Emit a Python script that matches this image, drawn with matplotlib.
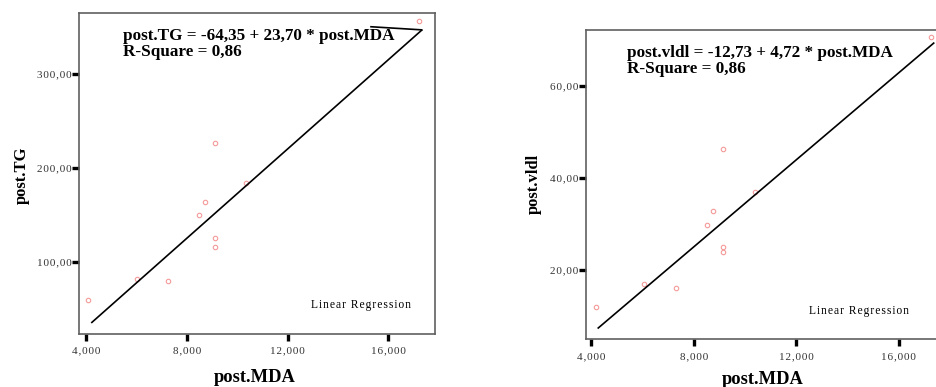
import matplotlib
matplotlib.use("Agg")
import matplotlib.pyplot as plt
import numpy as np

# ---- data ----
mda = [4.09, 6.04, 7.27, 8.50, 8.72, 9.13, 9.13, 9.13, 10.35, 17.23]
tg = [59.7, 81.6, 79.8, 149.9, 164.0, 226.6, 125.0, 115.6, 184.0, 355.8]

mda_v = [4.17, 6.07, 7.30, 8.52, 8.77, 9.15, 9.15, 9.15, 10.39, 17.27]
vldl = [11.97, 16.9, 16.1, 29.7, 32.8, 46.3, 24.9, 24.0, 36.9, 70.5]

tg_coef = (-64.35, 23.70)
vldl_coef = (-12.73, 4.72)
tg_fit_range = (4.23, 17.32)
vldl_fit_range = (4.27, 17.37)
# stray segment drawn at the end of the TG fit line
tg_tail_x = [17.32, 15.31]
tg_tail_y = [346.5, 349.8]

x_ticks = [4, 8, 12, 16]
x_ticklabels = ["4,000", "8,000", "12,000", "16,000"]
tg_ticks = [100, 200, 300]
tg_ticklabels = ["100,00", "200,00", "300,00"]
vldl_ticks = [20, 40, 60]
vldl_ticklabels = ["20,00", "40,00", "60,00"]

tg_eq = ["post.TG = -64,35 + 23,70 * post.MDA", "R-Square = 0,86"]
vldl_eq = ["post.vldl = -12,73 + 4,72 * post.MDA", "R-Square = 0,86"]
legend_text = "Linear Regression"

plt.rcParams['font.family'] = ['Liberation Serif', 'DejaVu Serif']

HAIR = "\u200a"
def spaced(s):
    return HAIR.join(s)

W, H = 936, 387
fig = plt.figure(figsize=(W / 100, H / 100), dpi=100)

def px_axes(x0, y0, x1, y1):
    return fig.add_axes([x0 / W, 1 - y1 / H, (x1 - x0) / W, (y1 - y0) / H])

ax1 = px_axes(79, 13, 435, 334)
ax2 = px_axes(585.7, 30, 946, 339.3)

marker_kw = dict(marker='o', markersize=3.2, markerfacecolor='none',
                 markeredgecolor='#f49a9a', markeredgewidth=0.8, linestyle='none')

def style(ax, xt, xtl, yt, ytl, xlim, ylim):
    ax.set_xlim(*xlim)
    ax.set_ylim(*ylim)
    ax.set_xticks(xt)
    ax.set_xticklabels([spaced(t) for t in xtl])
    ax.set_yticks(yt)
    ax.set_yticklabels([spaced(t) for t in ytl])
    for s in ax.spines.values():
        s.set_color('#606060')
        s.set_linewidth(1.2)
    ax.tick_params(direction='out', length=5, width=2.4, color='black',
                   labelcolor='#333333', labelsize=8)
    ax.tick_params(axis='y', pad=0.5)
    ax.tick_params(axis='x', pad=4)

# left panel
ax1.plot(mda, tg, **marker_kw)
xf = np.array(tg_fit_range)
ax1.plot(xf, tg_coef[0] + tg_coef[1] * xf, color='black', lw=1.2)
ax1.plot(tg_tail_x, tg_tail_y, color='black', lw=1.2)
style(ax1, x_ticks, x_ticklabels, tg_ticks, tg_ticklabels, (3.72, 17.85), (23.6, 364.4))
ax1.text(0.124, 0.928, tg_eq[0], transform=ax1.transAxes, fontsize=12.3,
         fontweight='bold', va='center', ha='left')
ax1.text(0.124, 0.878, tg_eq[1], transform=ax1.transAxes, fontsize=12.3,
         fontweight='bold', va='center', ha='left')
ax1.text(0.652, 0.090, spaced(legend_text), transform=ax1.transAxes,
         fontsize=8.3, va='center', ha='left')

# right panel
ax2.plot(mda_v, vldl, **marker_kw)
xf2 = np.array(vldl_fit_range)
ax2.plot(xf2, vldl_coef[0] + vldl_coef[1] * xf2, color='black', lw=1.2)
style(ax2, x_ticks, x_ticklabels, vldl_ticks, vldl_ticklabels, (3.78, 17.85), (4.97, 72.1))
ax2.text(0.115, 0.926, vldl_eq[0], transform=ax2.transAxes, fontsize=12.3,
         fontweight='bold', va='center', ha='left')
ax2.text(0.115, 0.874, vldl_eq[1], transform=ax2.transAxes, fontsize=12.3,
         fontweight='bold', va='center', ha='left')
ax2.text(0.62, 0.0915, spaced(legend_text), transform=ax2.transAxes,
         fontsize=8.3, va='center', ha='left')

# axis titles
fig.text(22 / W, 1 - 175 / H, "post.TG", rotation=90, fontsize=12,
         fontweight='bold', ha='center', va='center')
fig.text(534 / W, 1 - 184 / H, "post.vldl", rotation=90, fontsize=12,
         fontweight='bold', ha='center', va='center')
fig.text(255 / W, 1 - 377 / H, "post.MDA", fontsize=13.3,
         fontweight='bold', ha='center', va='center')
fig.text(763 / W, 1 - 379 / H, "post.MDA", fontsize=13.3,
         fontweight='bold', ha='center', va='center')

fig.savefig("out.png", dpi=100)
